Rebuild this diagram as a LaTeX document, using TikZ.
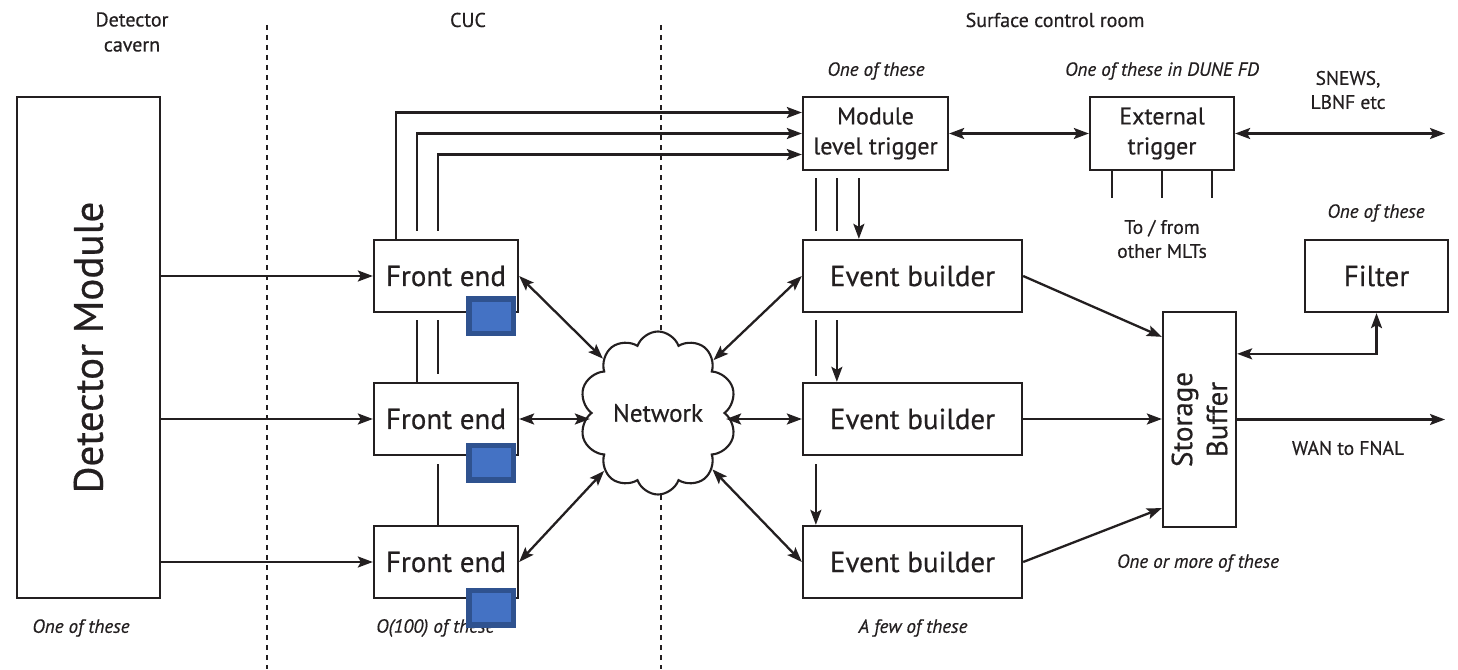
\documentclass[tikz,border=0pt]{standalone}
\usepackage{fontspec}
\setmainfont{PT Sans}[FakeBold=0.5]
\usetikzlibrary{arrows.meta,calc,shapes.symbols}
\definecolor{ink}{RGB}{35,31,32}
\definecolor{chipfill}{RGB}{68,114,196}
\definecolor{chipedge}{RGB}{47,82,143}
\begin{document}
\begin{tikzpicture}[x=1pt,y=-1pt,
  box/.style={draw=ink, line width=2.3pt, fill=white, inner sep=0pt, text=ink},
  febox/.style={box, minimum width=144pt, minimum height=72pt, font=\fontsize{29}{33}\selectfont},
  ebbox/.style={box, minimum width=219pt, minimum height=72pt, font=\fontsize{29}{33}\selectfont},
  trigbox/.style={box, minimum width=145pt, minimum height=73pt, align=center, font=\fontsize{24}{30}\selectfont},
  conn/.style={draw=ink, line width=2.3pt},
  tip/.tip={Stealth[length=15pt,width=11pt,inset=3pt]},
  arr/.style={conn, -tip},
  dbl/.style={conn, tip-tip},
  note/.style={text=ink, inner sep=0pt, font=\fontsize{19}{22}\selectfont\itshape},
  head/.style={text=ink, inner sep=0pt, align=center, font=\fontsize{20}{25}\selectfont},
  small/.style={text=ink, inner sep=0pt, align=center, font=\fontsize{19.5}{24}\selectfont},
  divider/.style={draw=ink, line width=2.3pt, dash pattern=on 5pt off 5pt},
  chip/.style={fill=chipfill, draw=chipedge, line width=5.5pt, minimum width=44.5pt, minimum height=34.5pt, inner sep=0pt}
]
\useasboundingbox (0,0) rectangle (1458,669);

% section headings and dividers
\node[head] (hcav) at (132,32) {Detector\\cavern};
\node[head] (hcuc) at (468,20) {CUC};
\node[head] (hsur) at (1055,20) {Surface control room};
\draw[divider] (267,25) -- (267,669);
\draw[divider] (661,25) -- (661,669);

% detector module
\node[box, minimum width=143pt, minimum height=501pt] (dm) at (88.5,347.5) {};
\node[rotate=90, text=ink, font=\fontsize{41}{45}\selectfont] (dmtext) at (dm.center) {Detector Module};

% front ends
\node[febox] (fe1) at (446,276) {Front end};
\node[febox] (fe2) at (446,419) {Front end};
\node[febox] (fe3) at (446,562) {Front end};

% triggers, event builders, storage, filter
\node[trigbox] (mlt) at (875.5,133.5) {Module\\level trigger};
\node[trigbox, minimum width=144pt] (ext) at (1162,133.5) {External\\trigger};
\node[ebbox] (eb1) at (912.5,276) {Event builder};
\node[ebbox] (eb2) at (912.5,419) {Event builder};
\node[ebbox] (eb3) at (912.5,562) {Event builder};
\node[box, minimum width=73pt, minimum height=215pt] (sb) at (1199.5,419.5) {};
\node[rotate=90, text=ink, align=center, font=\fontsize{29}{35}\selectfont] (sbtext) at (sb.center) {Storage\\Buffer};
\node[febox, minimum width=143pt] (filt) at (1376.5,276) {Filter};

% network cloud
\node[cloud, draw=ink, line width=2.1pt, fill=white, cloud puffs=10, cloud puff arc=140,
      aspect=1, minimum width=157pt, minimum height=163pt, inner sep=0pt,
      text=ink, font=\fontsize{25}{28}\selectfont] (net) at (658,413) {Network};

% free ends
\coordinate (snews) at (1445,133.5);
\coordinate (wan) at (1445,419.5);

% detector to front ends
\draw[arr] (dm.east |- fe1.west) -- (fe1.west);
\draw[arr] (dm.east |- fe2.west) -- (fe2.west);
\draw[arr] (dm.east |- fe3.west) -- (fe3.west);

% front ends to module level trigger
\draw[arr] ($(fe1.north west)+(23,0)$) |- ($(mlt.west)+(0,-21)$);
\draw[conn] ($(fe2.north west)+(44,0)$) -- ($(fe1.south west)+(44,7)$);
\draw[arr] ($(fe1.north west)+(44,-8)$) |- (mlt.west);
\draw[conn] ($(fe3.north west)+(65,0)$) -- ($(fe2.south west)+(65,8)$);
\draw[conn] ($(fe2.north west)+(65,-8)$) -- ($(fe1.south west)+(65,7)$);
\draw[arr] ($(fe1.north west)+(65,-8)$) |- ($(mlt.west)+(0,21)$);

% module level trigger to event builders
\draw[arr] ($(mlt.south west)+(57,7)$) -- ($(eb1.north west)+(57,0)$);
\draw[conn] ($(mlt.south west)+(35,7)$) -- ($(eb1.north west)+(35,-8)$);
\draw[arr] ($(eb1.south west)+(35,7)$) -- ($(eb2.north west)+(35,0)$);
\draw[conn] ($(mlt.south west)+(14,7)$) -- ($(eb1.north west)+(14,-8)$);
\draw[conn] ($(eb1.south west)+(14,7)$) -- ($(eb2.north west)+(14,-6)$);
\draw[arr] ($(eb2.south west)+(14,8)$) -- ($(eb3.north west)+(14,0)$);

% trigger links
\draw[dbl] (mlt.east) -- (ext.west);
\draw[dbl] (ext.east) -- (snews);
\draw[conn] ($(ext.south)+(-50,0)$) -- ++(0,27);
\draw[conn] (ext.south) -- ++(0,27);
\draw[conn] ($(ext.south)+(50,0)$) -- ++(0,27);

% network links
\draw[dbl] (fe1.east) -- (net);
\draw[dbl] (fe2.east) -- (fe2.east -| net.west);
\draw[dbl] (fe3.east) -- (net);
\draw[dbl] (net) -- (eb1.west);
\draw[dbl] (eb2.west -| net.east) -- (eb2.west);
\draw[dbl] (net) -- (eb3.west);

% event builders to storage, storage out
\draw[arr] (eb1.east) -- ($(sb.north west)+(0,26)$);
\draw[arr] (eb2.east) -- (eb2.east -| sb.west);
\draw[arr] (eb3.east) -- ($(sb.south west)+(0,-20)$);
\draw[dbl] ($(sb.north east)+(0,43)$) -| (filt.south);
\draw[arr] (sb.east) -- (wan);

% annotations
\node[note] (n1) at (81,628) {One of these};
\node[note, anchor=west] (n2) at (376,628) {O(100) of these};
\node[note] (n3) at (913,628) {A few of these};
\node[note] (n4) at (1198,563) {One or more of these};
\node[note] (n5) at (876,71) {One of these};
\node[note] (n6) at (1162,71) {One of these in DUNE FD};
\node[note] (n7) at (1376,213) {One of these};
\node[small] (l1) at (1348,90) {SNEWS,\\LBNF etc};
\node[small] (l2) at (1162,239) {To / from\\other MLTs};
\node[small] (l3) at (1348,448) {WAN to FNAL};

% blue chips on the front ends
\node[chip] (c1) at (491,316) {};
\node[chip] (c2) at (491,462.5) {};
\node[chip] (c3) at (491,607.5) {};
\end{tikzpicture}
\end{document}
